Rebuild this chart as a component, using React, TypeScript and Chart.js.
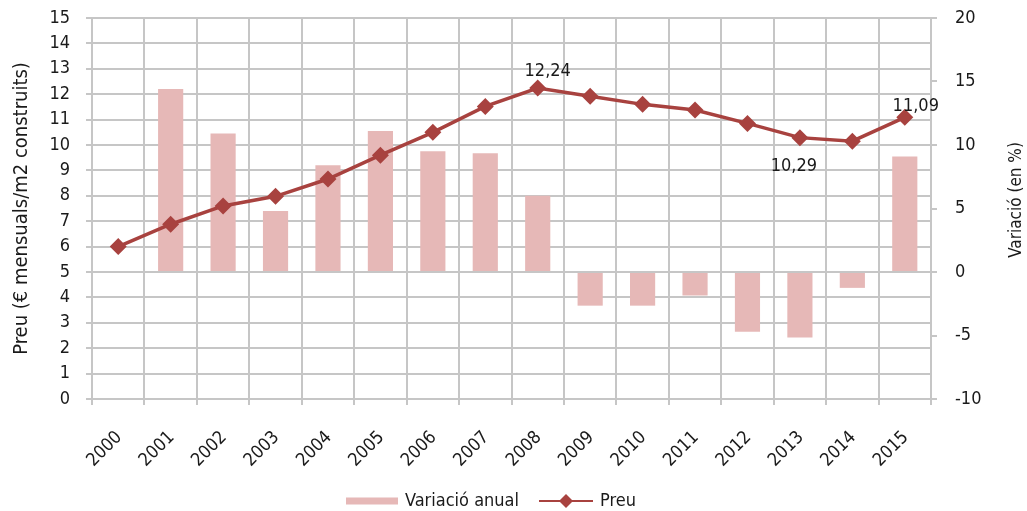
import React, { useEffect, useRef } from "react";
import { Chart, registerables } from "chart.js";

Chart.register(...registerables);

// ---- data ----
const years = ["2000","2001","2002","2003","2004","2005","2006","2007","2008","2009","2010","2011","2012","2013","2014","2015"];
const variacioAnual = [null, 14.4, 10.9, 4.8, 8.4, 11.1, 9.5, 9.35, 6.0, -2.65, -2.65, -1.85, -4.7, -5.15, -1.25, 9.1];
const preu = [6.0, 6.88, 7.6, 7.98, 8.66, 9.6, 10.5, 11.52, 12.24, 11.92, 11.6, 11.38, 10.85, 10.29, 10.15, 11.09];
const labeledIndices = [8, 13, 15];
const leftRange = { min: 0, max: 15, step: 1 };
const rightRange = { min: -10, max: 20, step: 5 };
const seriesNames = { bar: "Variació anual", line: "Preu" };
const axisTitles = { left: "Preu (€ mensuals/m2 construits)", right: "Variació (en %)" };

const FONT = "'Liberation Sans Narrow', 'DejaVu Sans Condensed', 'Roboto Condensed', sans-serif";
const BAR_COLOR = "#E6B8B7";
const LINE_COLOR = "#A8423F";
const GRID = "#C6C6C6";
const TEXT = "#1a1a1a";

// label placement style: [dx, dy] relative to the point, alphabetic baseline
const labelStyle: Record<number, [number, number]> = {
  8: [10, -12],
  13: [-6, 33],
  15: [11, -6],
};

const fmt = (v: number) => v.toFixed(2).replace(".", ",");

const overlayPlugin = {
  id: "overlay",
  afterDatasetsDraw(chart: any) {
    const ctx = chart.ctx as CanvasRenderingContext2D;
    const meta = chart.getDatasetMeta(1);
    ctx.save();
    ctx.font = `18px ${FONT}`;
    ctx.fillStyle = TEXT;
    ctx.textAlign = "center";
    ctx.textBaseline = "alphabetic";
    labeledIndices.forEach((i) => {
      const el = meta.data[i];
      const [dx, dy] = labelStyle[i] || [0, -10];
      ctx.fillText(fmt(preu[i]), el.x + dx, el.y + dy);
    });
    ctx.restore();
  },
  afterDraw(chart: any) {
    const ctx = chart.ctx as CanvasRenderingContext2D;
    ctx.save();
    // right axis title, reading bottom to top
    ctx.font = `17px ${FONT}`;
    ctx.fillStyle = TEXT;
    ctx.textAlign = "center";
    ctx.textBaseline = "middle";
    ctx.translate(1017, 200);
    ctx.rotate(-Math.PI / 2);
    ctx.fillText(axisTitles.right, 0, 0);
    ctx.restore();

    // legend
    ctx.save();
    ctx.font = `18px ${FONT}`;
    ctx.textBaseline = "middle";
    ctx.textAlign = "left";
    const y = 501;
    let x = 346;
    ctx.fillStyle = BAR_COLOR;
    ctx.fillRect(x, y - 3.5, 52, 7);
    x += 59;
    ctx.fillStyle = TEXT;
    ctx.fillText(seriesNames.bar, x, y);
    x += ctx.measureText(seriesNames.bar).width + 20;
    ctx.strokeStyle = LINE_COLOR;
    ctx.lineWidth = 2;
    ctx.beginPath();
    ctx.moveTo(x, y);
    ctx.lineTo(x + 54, y);
    ctx.stroke();
    ctx.fillStyle = LINE_COLOR;
    const cx = x + 27;
    const r = 7;
    ctx.beginPath();
    ctx.moveTo(cx, y - r);
    ctx.lineTo(cx + r, y);
    ctx.lineTo(cx, y + r);
    ctx.lineTo(cx - r, y);
    ctx.closePath();
    ctx.fill();
    ctx.fillStyle = TEXT;
    ctx.fillText(seriesNames.line, x + 61, y);
    ctx.restore();
  },
};

export default function App() {
  const ref = useRef<HTMLCanvasElement | null>(null);
  useEffect(() => {
    document.body.style.margin = "0";
    const canvas = ref.current;
    if (!canvas) return;
    const chart = new Chart(canvas, {
      type: "bar",
      data: {
        labels: years,
        datasets: [
          {
            type: "bar",
            label: seriesNames.bar,
            data: variacioAnual as any,
            yAxisID: "y1",
            backgroundColor: BAR_COLOR,
            borderWidth: 0,
            barPercentage: 0.48,
            categoryPercentage: 1,
            order: 2,
          },
          {
            type: "line",
            label: seriesNames.line,
            data: preu,
            yAxisID: "y",
            borderColor: LINE_COLOR,
            backgroundColor: LINE_COLOR,
            borderWidth: 3.5,
            pointStyle: "rectRot",
            pointRadius: 8.5,
            pointBorderWidth: 0,
            tension: 0,
            order: 1,
          } as any,
        ],
      },
      options: {
        animation: false,
        responsive: false,
        maintainAspectRatio: false,
        layout: { padding: { top: 18, bottom: 0, left: 0, right: 0 } },
        plugins: {
          legend: { display: false },
          tooltip: { enabled: false },
        },
        scales: {
          x: {
            grid: { color: GRID, lineWidth: 2, tickLength: 6, offset: true },
            border: { color: GRID, width: 2 },
            ticks: {
              font: { family: FONT, size: 18 },
              color: TEXT,
              minRotation: 45,
              maxRotation: 45,
              autoSkip: false,
              padding: 22,
              labelOffset: 1,
            },
            afterFit: (s: any) => {
              s.height = 112;
              s.paddingLeft = 0;
              s.paddingRight = 0;
            },
          },
          y: {
            position: "left",
            min: leftRange.min,
            max: leftRange.max,
            ticks: {
              stepSize: leftRange.step,
              font: { family: FONT, size: 18 },
              color: TEXT,
              padding: 16,
            },
            grid: { color: GRID, lineWidth: 2, tickLength: 6 },
            border: { color: GRID, width: 2 },
            title: {
              display: true,
              text: axisTitles.left,
              font: { family: FONT, size: 20 },
              color: TEXT,
              padding: { top: 10, bottom: 0 },
            },
            afterFit: (s: any) => {
              s.width = 92;
              s.paddingTop = 0;
              s.paddingBottom = 0;
            },
          },
          y1: {
            position: "right",
            min: rightRange.min,
            max: rightRange.max,
            ticks: {
              stepSize: rightRange.step,
              font: { family: FONT, size: 18 },
              color: TEXT,
              padding: 18,
            },
            grid: { drawOnChartArea: false, color: GRID, lineWidth: 2, tickLength: 6 },
            border: { color: GRID, width: 2 },
            afterFit: (s: any) => {
              s.width = 96;
              s.paddingTop = 0;
              s.paddingBottom = 0;
            },
          },
        },
      },
      plugins: [overlayPlugin],
    });
    return () => chart.destroy();
  }, []);
  return (
    <div style={{ width: 1027, height: 511, background: "#fff" }}>
      <canvas ref={ref} width={1027} height={511} style={{ display: "block" }} />
    </div>
  );
}
